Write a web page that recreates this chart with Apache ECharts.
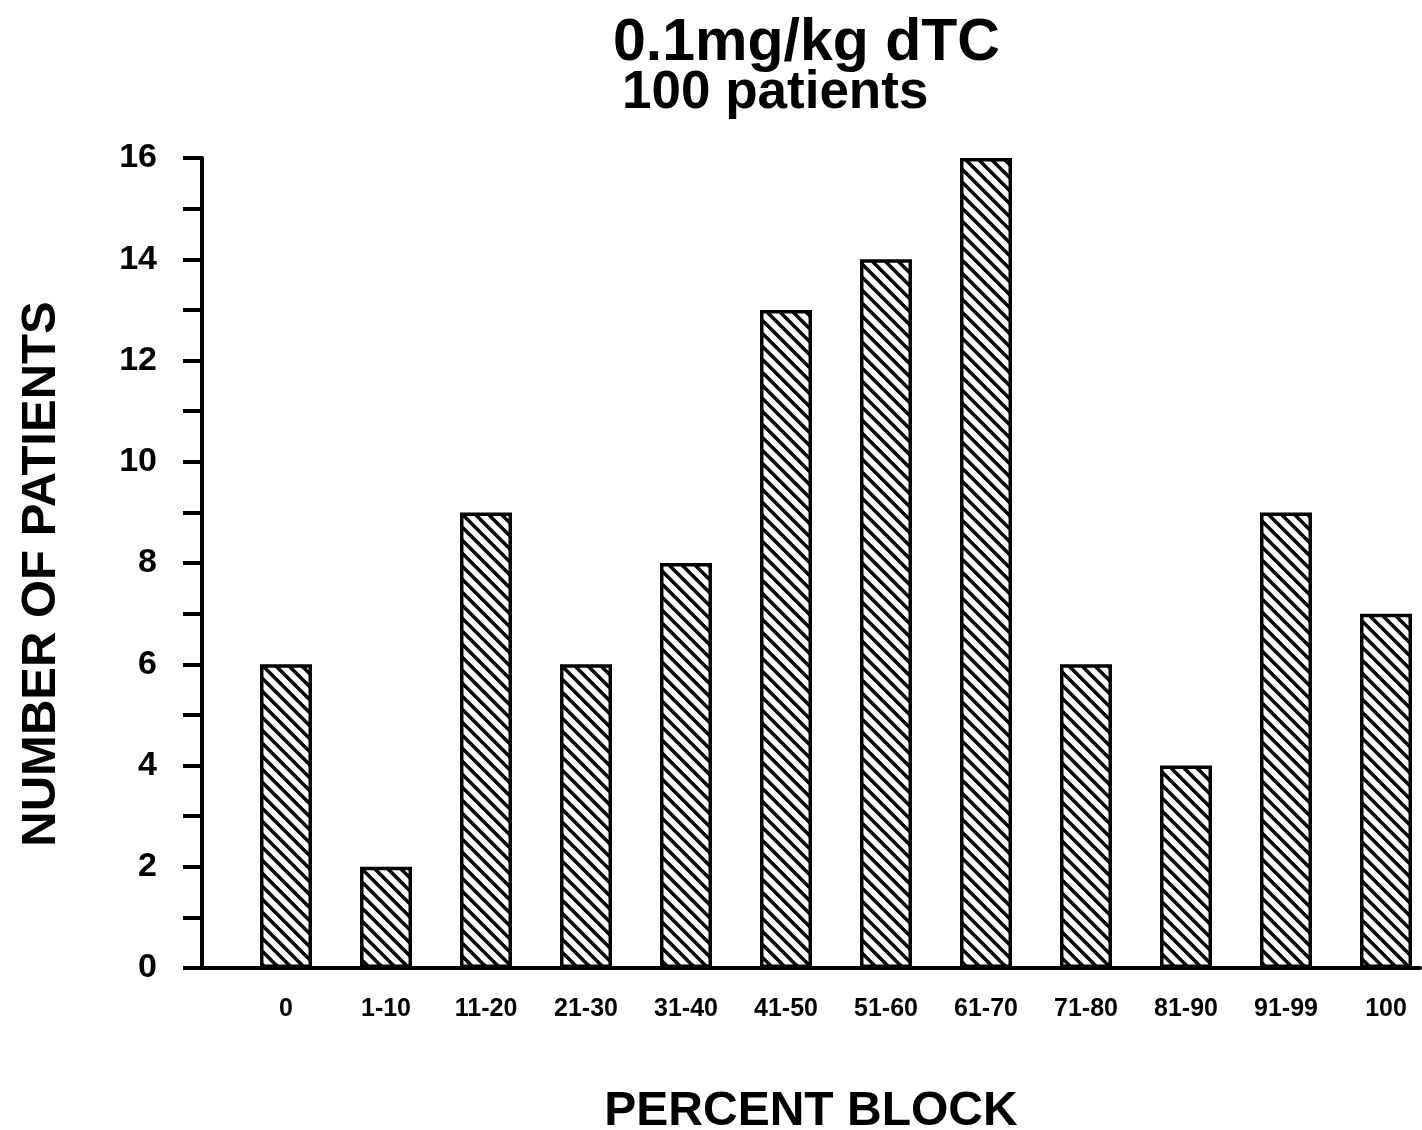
<!DOCTYPE html>
<html>
<head>
<meta charset="utf-8">
<script src="https://cdn.jsdelivr.net/npm/echarts@6/dist/echarts.min.js"></script>
<style>html,body{margin:0;padding:0;background:#fff}#c{width:1422px;height:1130px}</style>
</head>
<body>
<div id="c"></div>
<script>
const categories = ['0','1-10','11-20','21-30','31-40','41-50','51-60','61-70','71-80','81-90','91-99','100'];
const patients = [6, 2, 9, 6, 8, 13, 14, 16, 6, 4, 9, 7];
const titleLine1 = '0.1mg/kg dTC';
const titleLine2 = '100 patients';
const yName = 'NUMBER OF PATIENTS';
const xName = 'PERCENT BLOCK';

function hatch() {
  const s = 13;
  const c = document.createElement('canvas');
  c.width = s; c.height = s;
  const g = c.getContext('2d');
  g.fillStyle = '#fff'; g.fillRect(0, 0, s, s);
  g.strokeStyle = '#000'; g.lineWidth = 3.5;
  for (const k of [-s, 0, s]) {
    g.beginPath(); g.moveTo(k - 3, -3); g.lineTo(k + s + 3, s + 3); g.stroke();
  }
  return c;
}

const FONT = '"Liberation Sans", Arial, Helvetica, sans-serif';
const chart = echarts.init(document.getElementById('c'), null, {renderer: 'canvas'});
chart.setOption({
  backgroundColor: '#fff',
  animation: false,
  title: [
    {text: titleLine1, left: 608, top: 9, textStyle: {fontFamily: FONT, fontWeight: 'bold', fontSize: 59, color: '#000'}},
    {text: titleLine2, left: 617, top: 62, textStyle: {fontFamily: FONT, fontWeight: 'bold', fontSize: 53, color: '#000'}}
  ],
  grid: [
    {left: 236, right: -14, top: 158, bottom: 162, containLabel: false, outerBoundsMode: 'none'},
    {left: 202, right: 2, top: 158, bottom: 162, containLabel: false, outerBoundsMode: 'none'}
  ],
  xAxis: [
    {type: 'category', gridIndex: 0, data: categories, boundaryGap: true,
     axisLine: {show: false}, axisTick: {show: false},
     axisLabel: {interval: 0, margin: 29, fontFamily: FONT, fontWeight: 'bold', fontSize: 25, color: '#000'}},
    {type: 'value', gridIndex: 1, min: 0, max: 1, show: true,
     axisLine: {show: true, onZero: false, lineStyle: {color: '#000', width: 4}},
     axisTick: {show: false}, axisLabel: {show: false}, splitLine: {show: false},
     name: xName, nameLocation: 'middle', nameGap: 120,
     nameTextStyle: {fontFamily: FONT, fontWeight: 'bold', fontSize: 48, color: '#000'}}
  ],
  yAxis: [
    {type: 'value', gridIndex: 0, min: 0, max: 16, show: false, splitLine: {show: false}},
    {type: 'value', gridIndex: 1, min: 0, max: 16, interval: 2,
     axisLine: {show: true, lineStyle: {color: '#000', width: 4}},
     axisTick: {show: true, inside: false, length: 19, lineStyle: {color: '#000', width: 4}},
     minorTick: {show: true, splitNumber: 2, length: 19, lineStyle: {color: '#000', width: 4}},
     splitLine: {show: false},
     axisLabel: {margin: 45, fontFamily: FONT, fontWeight: 'bold', fontSize: 34, color: '#000'},
     name: yName, nameLocation: 'middle', nameGap: 136, nameRotate: 90,
     nameTextStyle: {fontFamily: FONT, fontWeight: 'bold', fontSize: 49, color: '#000', padding: [0, 22, 0, 0]}}
  ],
  series: [{
    type: 'bar', xAxisIndex: 0, yAxisIndex: 0, data: patients, barWidth: 52,
    itemStyle: {color: {image: hatch(), repeat: 'repeat'}, borderColor: '#000', borderWidth: 3.5}
  }]
});
</script>
</body>
</html>
